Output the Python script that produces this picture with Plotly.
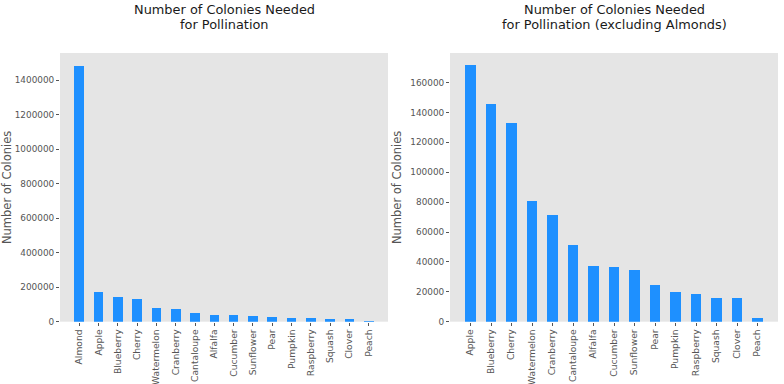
import plotly.graph_objects as go

crops_all = ["Almond", "Apple", "Blueberry", "Cherry", "Watermelon", "Cranberry", "Cantaloupe",
             "Alfalfa", "Cucumber", "Sunflower", "Pear", "Pumpkin", "Raspberry", "Squash", "Clover", "Peach"]
colonies_all = [1480000, 171600, 145900, 132700, 81000, 71600, 51500,
                37400, 36900, 34900, 24400, 20100, 18800, 15900, 15900, 2500]

crops_ex = crops_all[1:]
colonies_ex = colonies_all[1:]

BAR = "#1E90FF"
BG = "#E5E5E5"
TICK = "#555555"
FONT = "DejaVu Sans"

fig = go.Figure()
fig.add_trace(go.Bar(x=list(range(len(crops_all))), y=colonies_all, width=0.5,
                     marker=dict(color=BAR, line=dict(width=0)), xaxis="x", yaxis="y"))
fig.add_trace(go.Bar(x=list(range(len(crops_ex))), y=colonies_ex, width=0.5,
                     marker=dict(color=BAR, line=dict(width=0)), xaxis="x2", yaxis="y2"))

W, H = 784, 384
ydom = [1 - 321.7 / H, 1 - 53 / H]

common_x = dict(showgrid=False, zeroline=False, ticks="outside", ticklen=3, tickcolor=TICK,
                tickangle=-90, tickfont=dict(family=FONT, size=9.2, color=TICK), showline=False,
                automargin=False)
common_y = dict(showgrid=False, zeroline=False, ticks="outside", ticklen=3, tickcolor=TICK,
                tickfont=dict(family=FONT, size=8.9, color=TICK), tickformat="d", showline=False,
                automargin=False,
                title=dict(text="Number of Colonies", font=dict(family=FONT, size=11.5, color=TICK), standoff=6))

titles = [
    ("Number of Colonies Needed", 224, 9.5),
    ("for Pollination", 224, 24),
    ("Number of Colonies Needed", 614, 9.5),
    ("for Pollination (excluding Almonds)", 614, 24),
]
annotations = [
    dict(text=t, x=xp / W, y=1 - yp / H, xref="paper", yref="paper", xanchor="center",
         yanchor="middle", showarrow=False, font=dict(family=FONT, size=12.9, color="#1a1a1a"))
    for t, xp, yp in titles
]

fig.update_layout(
    width=W, height=H, showlegend=False,
    paper_bgcolor="white", plot_bgcolor=BG,
    margin=dict(l=0, r=0, t=0, b=0),
    bargap=0,
    xaxis=dict(domain=[60 / W, 388 / W], anchor="y", range=[-1, len(crops_all)],
               tickmode="array", tickvals=list(range(len(crops_all))), ticktext=crops_all, **common_x),
    yaxis=dict(domain=ydom, anchor="x", range=[0, 1557000], dtick=200000, **common_y),
    xaxis2=dict(domain=[450 / W, 778 / W], anchor="y2", range=[-1, len(crops_ex)],
                tickmode="array", tickvals=list(range(len(crops_ex))), ticktext=crops_ex, **common_x),
    yaxis2=dict(domain=ydom, anchor="x2", range=[0, 179800], dtick=20000, **common_y),
    annotations=annotations,
)

fig.write_html("out.html", config={"displayModeBar": False},
               post_script="document.body.style.margin='0';document.body.style.overflow='hidden';")
